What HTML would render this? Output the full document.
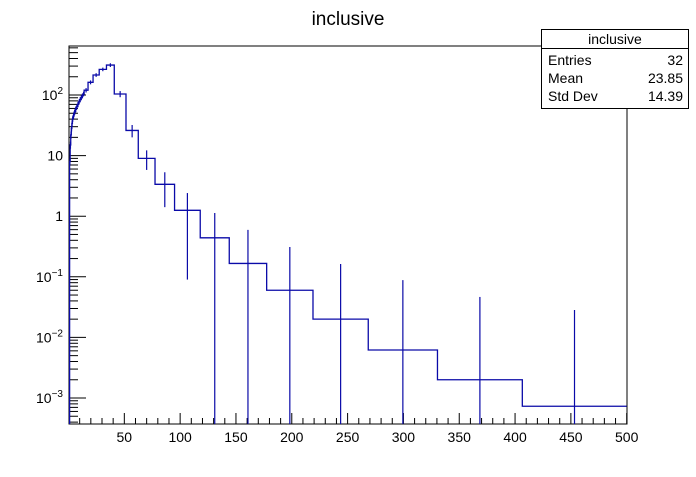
<!DOCTYPE html>
<html><head><meta charset="utf-8"><style>
body{margin:0;background:#fff;}
svg text{font-family:"Liberation Sans",sans-serif;}
</style></head><body>
<svg id="c" width="696" height="472" viewBox="0 0 696 472" xmlns="http://www.w3.org/2000/svg">
<rect width="696" height="472" fill="#fff"/>
<text x="348" y="25" font-size="19" text-anchor="middle">inclusive</text>
<rect x="69" y="46" width="558" height="378" fill="none" stroke="#000" stroke-width="1"/>
<g id="ax"></g>
<g id="hist"></g>
<g>
<rect x="541.5" y="29.5" width="147" height="79" fill="#fff" stroke="#000"/>
<line x1="541.5" y1="48.5" x2="688.5" y2="48.5" stroke="#000"/>
<text x="615" y="44" font-size="14" text-anchor="middle">inclusive</text>
<text x="548" y="65" font-size="14">Entries</text><text x="683" y="65" font-size="14" text-anchor="end">32</text>
<text x="548" y="83" font-size="14">Mean</text><text x="683" y="83" font-size="14" text-anchor="end">23.85</text>
<text x="548" y="101" font-size="14">Std Dev</text><text x="683" y="101" font-size="14" text-anchor="end">14.39</text>
</g>
</svg>
<script>
const binEdges=[1,1.5,2,2.5,3,3.5,4,5,6,7,8,9,10,11,12,13,14,17.5,22,27.5,34,41,51.5,62.5,77.5,95,118,144,177.5,219,268.5,330.5,406.5,500];
const binValues=[8,15,22,28,34,40,45,52,58,64,70,77,84,90,97,104,120,162,214,265,312,104,26,9,3.36,1.25,0.44,0.166,0.060,0.020,0.0062,0.0020,0.00073];
const binErrors=[1,2,3,3,4,4,5,5,6,6,7,7,8,8,9,9,10,12,15,18,22,12,6,3.2,1.95,1.16,0.69,0.43,0.25,0.143,0.082,0.0445,0.0276];
const xTickLabels=[50,100,150,200,250,300,350,400,450,500];
const yTickExps=[-3,-2,-1,0,1,2];
const NS='http://www.w3.org/2000/svg';
const L=68.5,R=627,T=46,B=424;
function xs(v){return L+v*1.1164;}
function ys(v){return 95-60.6*(Math.log10(v)-2);}
function mk(tag,at,par){const e=document.createElementNS(NS,tag);for(const k in at)e.setAttribute(k,at[k]);par.appendChild(e);return e;}
const ax=document.getElementById('ax'),h=document.getElementById('hist');
// x ticks
for(let v=10;v<=500;v+=10){const major=v%50===0;const t=mk('line',{x1:xs(v),x2:xs(v),y1:B,y2:B-(major?11:6),stroke:'#000'},ax);

}
xTickLabels.forEach(v=>{const t=mk('text',{x:xs(v),y:442,'font-size':14,'text-anchor':'middle'},ax);t.textContent=v;

});
// y ticks
for(let e=-4;e<=2;e++){for(let m=1;m<10;m++){const v=m*Math.pow(10,e);const y=ys(v);if(y<T||y>B)continue;
const t=mk('line',{x1:69,x2:69+(m===1?17:9),y1:y,y2:y,stroke:'#000'},ax);

}}
yTickExps.forEach(e=>{const y=ys(Math.pow(10,e));const t=mk('text',{x:63,y:y+5,'font-size':14,'text-anchor':'end'},ax);
if(e===0)t.textContent='1';else if(e===1)t.textContent='10';else{t.textContent='10';const s=mk('tspan',{dy:-6,'font-size':10},t);s.textContent=String(e).replace('-','\u2212');}

});
// histogram steps
let d='';const col='#0a0aa8';
for(let i=0;i<binValues.length;i++){const y=ys(binValues[i]);const x0=xs(binEdges[i]),x1=Math.min(xs(binEdges[i+1]),R);
d+=(i===0?'M'+x0+' '+B+' L':' L')+x0+' '+y+' L'+x1+' '+y;}
const p=mk('path',{d:d,fill:'none',stroke:col,'stroke-width':1.3},h);


for(let i=0;i<binValues.length;i++){const xc=xs((binEdges[i]+binEdges[i+1])/2);const v=binValues[i],e=binErrors[i];
const y1=Math.max(ys(v+e),T);const y2=v-e>0?Math.min(ys(v-e),B):B;
const l=mk('line',{x1:xc,x2:xc,y1:y1,y2:y2,stroke:col,'stroke-width':1.2},h);

}
</script>
</body></html>
